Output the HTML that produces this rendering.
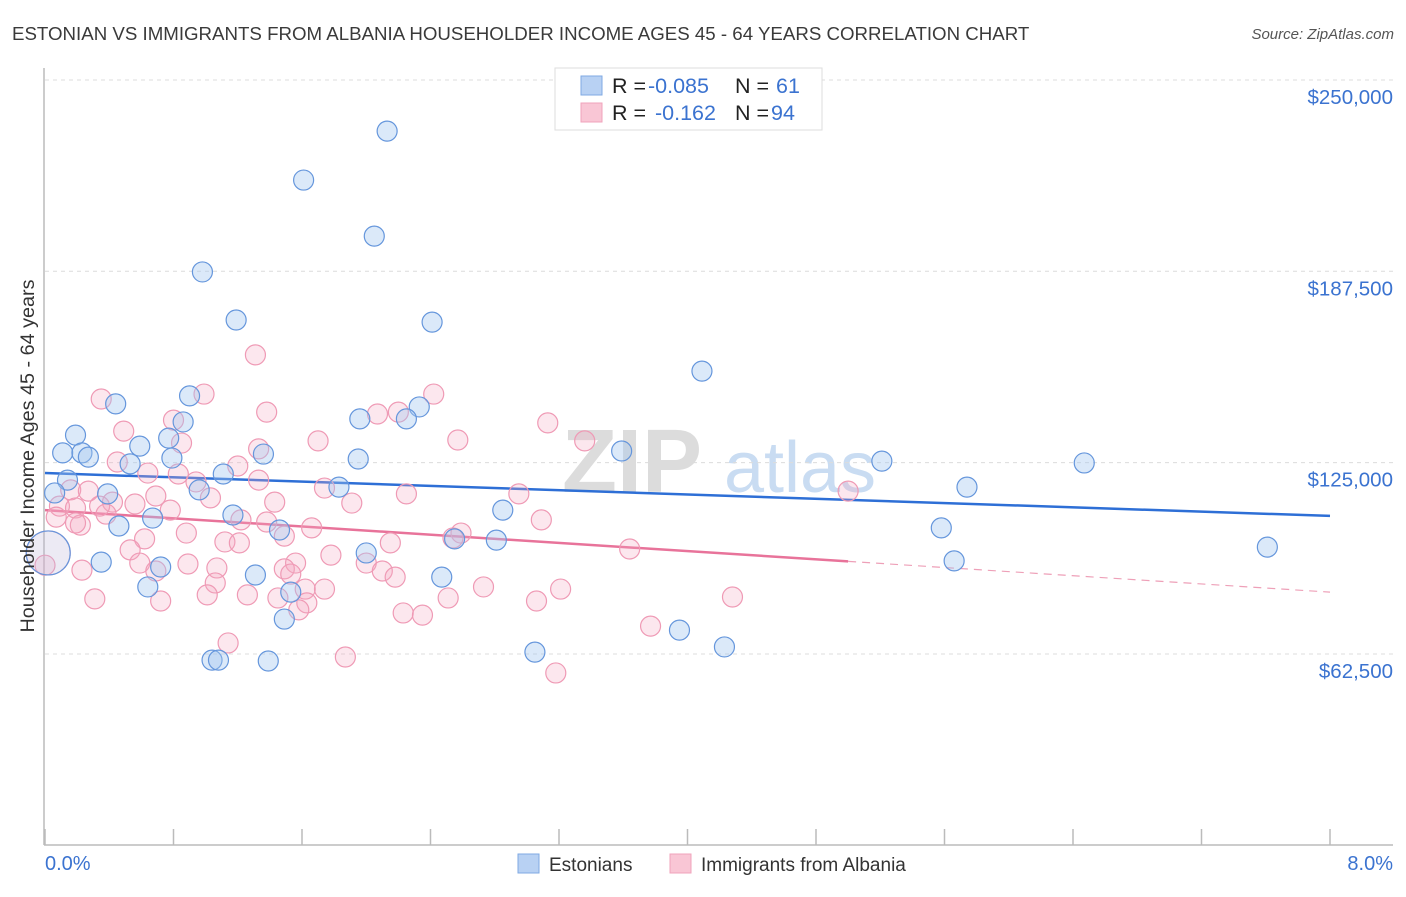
<!DOCTYPE html>
<html><head><meta charset="utf-8"><style>
body{margin:0;background:#fff;font-family:"Liberation Sans",sans-serif}
svg text{font-family:"Liberation Sans",sans-serif}
</style></head><body>
<svg id="chart" width="1406" height="892" viewBox="0 0 1406 892" xmlns="http://www.w3.org/2000/svg">
<text x="12" y="40" font-size="18.7" fill="#3a3a3a">ESTONIAN VS IMMIGRANTS FROM ALBANIA HOUSEHOLDER INCOME AGES 45 - 64 YEARS CORRELATION CHART</text>
<text x="1394" y="39" font-size="15" fill="#555" text-anchor="end" font-style="italic">Source: ZipAtlas.com</text>
<g>
<text x="632" y="492" font-size="90" fill="#dcdcdc" text-anchor="middle" font-family="Liberation Serif" font-weight="bold">ZIP</text>
<text x="800" y="492" font-size="72" fill="#c9dcf2" text-anchor="middle">atlas</text>
</g>
<g id="grid"></g>
<g id="axes"></g>
<g id="trends"></g>
<g id="points"></g>
<text transform="translate(34,456) rotate(-90)" font-size="19.8" fill="#333" text-anchor="middle">Householder Income Ages 45 - 64 years</text>
<g>
<rect x="555" y="68" width="267" height="62" fill="#fff" stroke="#ddd"/>
<rect x="581" y="76" width="21" height="19" fill="#b8d1f3" stroke="#7fa9e3"/>
<rect x="581" y="103" width="21" height="19" fill="#f9c6d5" stroke="#f0a3bb"/>
<text x="612" y="93" font-size="21.5" fill="#222">R =</text>
<text x="648" y="93" font-size="21.5" fill="#3b73d0">-0.085</text>
<text x="735" y="93" font-size="21.5" fill="#222">N =</text>
<text x="776" y="93" font-size="21.5" fill="#3b73d0">61</text>
<text x="612" y="120" font-size="21.5" fill="#222">R =</text>
<text x="655" y="120" font-size="21.5" fill="#3b73d0">-0.162</text>
<text x="735" y="120" font-size="21.5" fill="#222">N =</text>
<text x="771" y="120" font-size="21.5" fill="#3b73d0">94</text>
</g>
<g>
<rect x="518" y="854" width="21" height="19" fill="#b8d1f3" stroke="#7fa9e3"/>
<text x="549" y="871" font-size="19" fill="#333">Estonians</text></g>
<g>
<rect x="670" y="854" width="21" height="19" fill="#f9c6d5" stroke="#f0a3bb"/>
<text x="701" y="871" font-size="19" fill="#333">Immigrants from Albania</text></g>
</svg>
<script>
const yTicks=[62500,125000,187500,250000];
const yTickLabels=["$62,500","$125,000","$187,500","$250,000"];
const xTicks=[0,0.8,1.6,2.4,3.2,4,4.8,5.6,6.4,7.2,8];
const blueX=[2.13,1.61,2.05,0.98,1.19,2.41,4.09,0.44,0.90,2.33,2.25,1.96,0.19,0.86,0.59,0.77,0.11,0.23,0.27,0.53,0.79,1.36,1.95,0.14,1.11,0.96,0.67,0.46,0.06,0.39,1.17,1.46,1.83,2.85,3.59,5.21,5.74,6.47,5.58,7.61,5.66,2.81,2.55,2.00,0.35,0.72,0.64,1.31,2.47,1.53,1.49,3.95,4.23,3.05,1.04,1.08,1.39,0.02];
const blueY=[233.3,217.3,199.0,187.3,171.6,170.9,154.9,144.2,146.8,143.2,139.3,139.3,134.0,138.3,130.4,133.0,128.2,128.2,126.8,124.6,126.5,127.8,126.2,119.3,121.3,116.1,106.9,104.3,115.1,114.8,107.9,103.0,117.0,109.5,128.8,125.5,117.0,124.9,103.7,97.4,92.9,99.7,100.1,95.5,92.5,90.9,84.4,88.3,87.6,82.7,73.9,70.3,64.8,63.1,60.5,60.5,60.2,95.5];
const blueBig=[57];
const pinkX=[1.31,2.42,0.99,0.35,1.38,2.07,2.20,3.13,0.80,0.49,1.70,2.57,3.36,0.85,1.33,0.45,1.20,0.64,0.83,1.33,0.16,0.27,0.94,0.42,0.69,1.03,1.74,2.25,2.95,5.00,0.09,0.19,0.34,0.56,0.78,0.38,1.43,1.22,1.38,1.49,1.66,1.91,0.22,0.07,0.19,0.62,0.88,1.12,1.21,2.59,3.09,2.15,0.53,1.78,2.54,0.59,0.69,0.89,1.07,1.56,2.00,2.10,3.64,0.23,1.06,2.18,1.49,1.53,1.62,1.74,2.73,3.21,0.31,0.72,1.01,1.26,1.45,1.63,1.58,2.51,3.06,4.28,2.23,2.35,3.77,1.14,1.87,3.18,0.02,0.0];
const pinkY=[160.2,147.4,147.4,145.8,141.5,140.9,141.5,138.0,138.9,135.3,132.1,132.4,132.1,131.4,129.5,125.2,123.9,121.6,121.3,119.3,116.1,115.7,118.7,112.1,114.1,113.5,116.7,114.8,114.8,115.7,110.8,110.2,110.8,111.5,109.5,108.2,112.1,106.3,105.6,101.0,103.7,111.8,104.6,107.2,105.3,100.1,102.0,99.1,98.8,102.0,106.3,98.8,96.5,94.8,100.4,92.2,89.6,91.9,90.6,92.2,92.2,89.6,96.8,89.9,85.7,87.6,90.3,88.6,83.7,83.7,84.4,83.7,80.5,79.8,81.8,81.8,80.8,79.2,76.9,80.8,79.8,81.1,75.9,75.2,71.6,66.1,61.5,56.3,95.5,91.5];
const pinkBig=[88];
const blueTrend=[121.6,107.6];
const pinkTrend=[109.5,82.7];
const pinkSolidEnd=5.0;

const NS="http://www.w3.org/2000/svg";
const X0=45,X1=1330,YB=845.3,PX_PER_K=191.33/62.5;
function sx(v){return X0+(X1-X0)*v/8;}
function sy(k){return YB-k*PX_PER_K;}
function mk(t,a,p){const e=document.createElementNS(NS,t);for(const k in a)e.setAttribute(k,a[k]);p.appendChild(e);return e;}
const grid=document.getElementById('grid'),axes=document.getElementById('axes');
yTicks.forEach((t,i)=>{
  const y=sy(t/1000);
  const l=mk('line',{x1:45,x2:1393,y1:y,y2:y,stroke:'#dcdcdc','stroke-dasharray':'4,4'},grid);
  
  
  const tx=mk('text',{x:1393,y:y+24,'font-size':20.5,fill:'#3b73d0','text-anchor':'end'},grid);
  
  
  tx.textContent=yTickLabels[i];
});
const ya=mk('line',{x1:44,x2:44,y1:68,y2:845,stroke:'#bbb','stroke-width':1.5},axes);


const xa=mk('line',{x1:44,x2:1393,y1:845,y2:845,stroke:'#bbb','stroke-width':1.5},axes);


xTicks.forEach(t=>{
  const l=mk('line',{x1:sx(t),x2:sx(t),y1:829,y2:845,stroke:'#bbb','stroke-width':1.5},axes);
  
  
});
const xl0=mk('text',{x:45,y:870,'font-size':20,fill:'#3b73d0'},axes);


xl0.textContent='0.0%';
const xl1=mk('text',{x:1393,y:870,'font-size':20,fill:'#3b73d0','text-anchor':'end'},axes);


xl1.textContent='8.0%';

const pts=document.getElementById('points');
function drawSeries(xs,ys,big,fill,stroke,name){
  xs.forEach((x,i)=>{
    const isBig=big.includes(i);
    const c=mk('circle',{cx:sx(x),cy:sy(ys[i]),r:isBig?22:10,fill:fill,stroke:stroke,'stroke-width':1.2,'fill-opacity':isBig?0.5:1},pts);
    
    
  });
}
drawSeries(pinkX,pinkY,pinkBig,'rgba(246,168,193,0.28)','#ef9ab5','albania-point');
drawSeries(blueX,blueY,blueBig,'rgba(160,196,240,0.38)','#6596dc','estonian-point');

const tr=document.getElementById('trends');
function lerp(a,v){return a[0]+(a[1]-a[0])*v/8;}
const bt=mk('line',{x1:sx(0),y1:sy(blueTrend[0]),x2:sx(8),y2:sy(blueTrend[1]),stroke:'#2e6fd6','stroke-width':2.5},tr);


const pt=mk('line',{x1:sx(0),y1:sy(pinkTrend[0]),x2:sx(pinkSolidEnd),y2:sy(lerp(pinkTrend,pinkSolidEnd)),stroke:'#e8739a','stroke-width':2.5},tr);


const pd=mk('line',{x1:sx(pinkSolidEnd),y1:sy(lerp(pinkTrend,pinkSolidEnd)),x2:sx(8),y2:sy(pinkTrend[1]),stroke:'#eea0b8','stroke-width':1.2,'stroke-dasharray':'8,6'},tr);


</script>
</body></html>
